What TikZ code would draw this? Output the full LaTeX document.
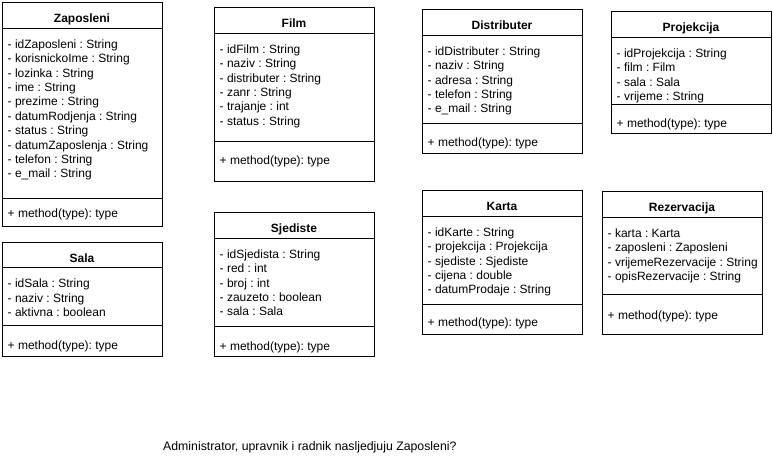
\documentclass[tikz,border=0pt]{standalone}
\usepackage{fontspec}
\setmainfont{Liberation Sans}
\usetikzlibrary{positioning}
\frenchspacing

\begin{document}
\begin{tikzpicture}[x=1pt, y=-1pt,
    every node/.style={font=\fontsize{12}{14.4}\selectfont},
    box/.style={draw, line width=1pt, anchor=north west, inner sep=0pt, minimum width=160pt},
    ttl/.style={anchor=base, inner sep=0pt, font=\fontsize{12}{14.4}\selectfont\bfseries},
    attr/.style={anchor=north west, inner sep=0pt, align=left},
    sep/.style={line width=1pt}
]
\useasboundingbox (0,0) rectangle (773,458);
% #1 name, #2 left, #3 top, #4 separator, #5 method baseline, #6 bottom, #7 title, #8 attributes
\def\cls#1#2#3#4#5#6#7#8{%
  \node[box, minimum height={(#6-#3)*1pt}] (#1) at (#2,#3) {};
  \node[ttl] (#1-t) at (#2+80,#3+20.5) {#7};
  \draw[sep] (#2,#3+26) -- (#2+160,#3+26);
  \node[attr] (#1-a) at (#2+5.5,#3+36) {\strut#8};
  \draw[sep] (#2,#4) -- (#2+160,#4);
  \node[attr, anchor=base west] (#1-m) at (#2+5.5,#5) {+ method(type): type};
}
\cls{zap}{2}{2}{198}{217.5}{226}{Zaposleni}{- idZaposleni : String\\- korisnickoIme : String\\- lozinka : String\\- ime : String\\- prezime : String\\- datumRodjenja : String\\- status : String\\- datumZaposlenja : String\\- telefon : String\\- e\_mail : String}
\cls{film}{214}{7}{141}{164.3}{181}{Film}{- idFilm : String\\- naziv : String\\- distributer : String\\- zanr : String\\- trajanje : int\\- status : String}
\cls{dist}{422}{9}{123.3}{146.7}{153}{Distributer}{- idDistributer : String\\- naziv : String\\- adresa : String\\- telefon : String\\- e\_mail : String}
\cls{proj}{611}{11}{104.3}{127.7}{133}{Projekcija}{- idProjekcija : String\\- film : Film\\- sala : Sala\\- vrijeme : String}
\cls{sala}{2}{241.7}{325}{349}{356}{Sala}{- idSala : String\\- naziv : String\\- aktivna : boolean}
\cls{sjed}{214}{212}{326.7}{350}{356}{Sjediste}{- idSjedista : String\\- red : int\\- broj : int\\- zauzeto : boolean\\- sala : Sala}
\cls{karta}{422}{190}{304}{326}{334}{Karta}{- idKarte : String\\- projekcija : Projekcija\\- sjediste : Sjediste\\- cijena : double\\- datumProdaje : String}
\cls{rez}{602}{191}{294.3}{319}{334}{Rezervacija}{- karta : Karta\\- zaposleni : Zaposleni\\- vrijemeRezervacije : String\\- opisRezervacije : String}
\node[anchor=base west, inner sep=0pt, font=\fontsize{12.3}{14.4}\selectfont] (note) at (163,450) {Administrator, upravnik i radnik nasljedjuju Zaposleni?};
\end{tikzpicture}
\end{document}
